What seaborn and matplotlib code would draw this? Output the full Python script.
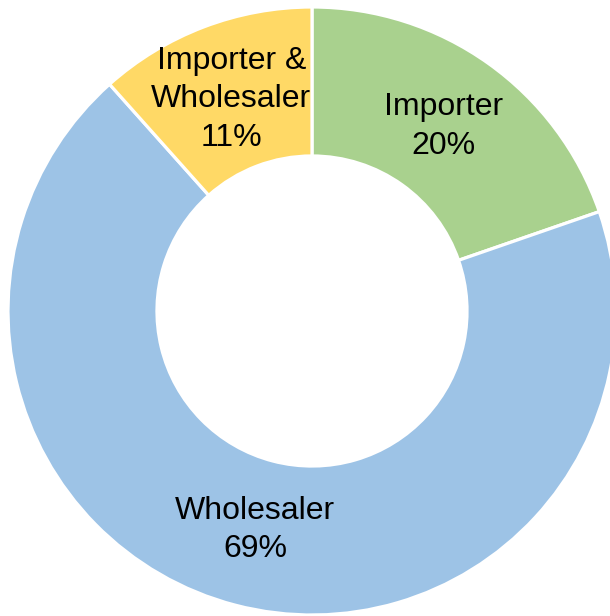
import matplotlib
matplotlib.use("Agg")
import matplotlib.pyplot as plt
import seaborn as sns

sns.set_theme(style="white")
plt.rcParams['font.family'] = ['Liberation Sans', 'DejaVu Sans']

categories = ["Importer", "Wholesaler", "Importer &\nWholesaler"]
values = [19.7, 68.7, 11.6]
pct_labels = ["20%", "69%", "11%"]
colors = ["#A9D18E", "#9DC3E6", "#FFD966"]

fig = plt.figure(figsize=(6.10, 6.16), dpi=100)
ax = fig.add_axes([8/610, 1/616, 608/610, 608/616])

labels = [f"{c}\n{p}" for c, p in zip(categories, pct_labels)]
wedges, texts = ax.pie(values, labels=labels, colors=colors, startangle=90,
                       counterclock=False, radius=1.0, labeldistance=0.745,
                       wedgeprops=dict(width=0.49, edgecolor="white", linewidth=2.3),
                       textprops=dict(fontsize=23, color="black", linespacing=1.36))
for t in texts:
    t.set_ha("center")
    t.set_va("center")
ax.set_xlim(-1, 1)
ax.set_ylim(-1, 1)
ax.set_aspect("equal")
ax.axis("off")
fig.savefig("out.png", dpi=100)
